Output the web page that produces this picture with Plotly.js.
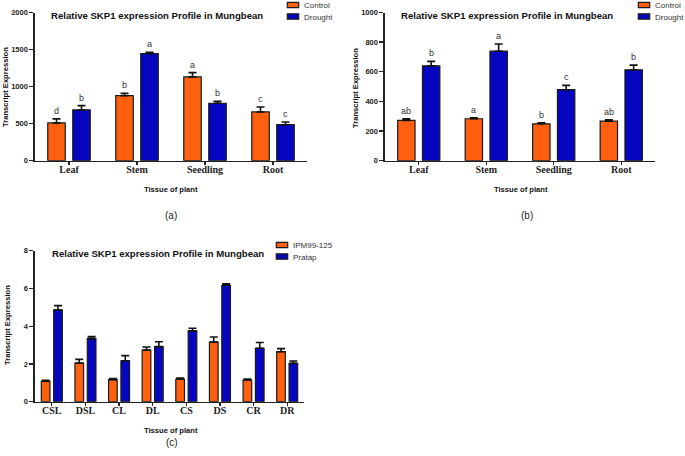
<!DOCTYPE html>
<html>
<head>
<meta charset="utf-8">
<script src="https://cdn.plot.ly/plotly-3.0.1.min.js"></script>
<style>
  body { margin: 0; background: #fff; }
  #chart { width: 685px; height: 456px; }
</style>
</head>
<body>
<div id="chart"></div>
<script>
// panel (a) and (b): tissues, Control vs Drought
const tissues = ['Leaf', 'Stem', 'Seedling', 'Root'];

const controlA = [510, 878, 1131, 658];
const controlErrA = [55, 32, 58, 67];
const droughtA = [685, 1446, 775, 486];
const droughtErrA = [58, 18, 28, 36];
const controlLettersA = ['d', 'b', 'a', 'c'];
const droughtLettersA = ['b', 'a', 'b', 'c'];

const controlB = [272, 283, 249, 267];
const controlErrB = [11, 7, 7, 9];
const droughtB = [640, 739, 479, 613];
const droughtErrB = [30, 48, 29, 32];
const controlLettersB = ['ab', 'a', 'b', 'ab'];
const droughtLettersB = ['b', 'a', 'c', 'b'];

// panel (c): genotypes per sample
const samples = ['CSL', 'DSL', 'CL', 'DL', 'CS', 'DS', 'CR', 'DR'];
const ipm = [1.08, 2.05, 1.17, 2.74, 1.20, 3.16, 1.15, 2.65];
const ipmErr = [0.05, 0.19, 0.05, 0.16, 0.05, 0.27, 0.05, 0.16];
const pratap = [4.86, 3.34, 2.17, 2.92, 3.75, 6.17, 2.83, 2.03];
const pratapErr = [0.23, 0.11, 0.27, 0.26, 0.14, 0.08, 0.31, 0.13];

const ORANGE = '#ff6010';
const BLUE = '#0606c0';
const W = 685, H = 456;
const sans = 'Liberation Sans, Arial, sans-serif';
const serif = 'Liberation Serif, Times New Roman, serif';

function barTrace(x, y, err, name, color, ax, legend) {
    return {
        type: 'bar',
        x: x,
        y: y,
        name: name,
        xaxis: 'x' + ax,
        yaxis: 'y' + ax,
        legend: legend,
        marker: { color: color, line: { color: '#1a1a1a', width: 1.2 } },
        error_y: {
            type: 'data',
            array: err,
            arrayminus: err.map(() => 0),
            symmetric: false,
            color: '#111',
            thickness: 1.6,
            width: 4
        },
        hoverinfo: 'none'
    };
}

// one legend per entry so the entries can sit as close as in the original
const data = [
    barTrace(tissues, controlA, controlErrA, 'Control', ORANGE, '', 'legend3'),
    barTrace(tissues, droughtA, droughtErrA, 'Drought', BLUE, '', 'legend4'),
    barTrace(tissues, controlB, controlErrB, 'Control', ORANGE, '2', 'legend5'),
    barTrace(tissues, droughtB, droughtErrB, 'Drought', BLUE, '2', 'legend6'),
    barTrace(samples, ipm, ipmErr, 'IPM99-125', ORANGE, '3', 'legend'),
    barTrace(samples, pratap, pratapErr, 'Pratap', BLUE, '3', 'legend2')
];

// significance letters sit just above each error bar
const annotations = [];
function letters(cats, vals, errs, labels, xref, yref, shift) {
    cats.forEach((c, i) => {
        annotations.push({
            x: c, y: vals[i] + errs[i], xref: xref, yref: yref,
            text: labels[i], showarrow: false,
            xshift: shift, yshift: 1, yanchor: 'bottom',
            font: { family: sans, size: 9, color: '#333' }
        });
    });
}
letters(tissues, controlA, controlErrA, controlLettersA, 'x', 'y', -12.5);
letters(tissues, droughtA, droughtErrA, droughtLettersA, 'x', 'y', 12.5);
letters(tissues, controlB, controlErrB, controlLettersB, 'x2', 'y2', -12.5);
letters(tissues, droughtB, droughtErrB, droughtLettersB, 'x2', 'y2', 12.5);

function label(text, px, py, opts) {
    annotations.push(Object.assign({
        x: px / W, y: 1 - py / H, xref: 'paper', yref: 'paper',
        text: text, showarrow: false, xanchor: 'center', yanchor: 'middle',
        font: { family: sans, size: 7.6, color: '#111', weight: 'bold' }
    }, opts || {}));
}
const titleFont = { family: sans, size: 9.6, color: '#111', weight: 'bold' };
const panelFont = { family: sans, size: 10, color: '#222' };
label('Relative SKP1 expression Profile in Mungbean', 157, 15, { font: titleFont });
label('Relative SKP1 expression Profile in Mungbean', 507, 15, { font: titleFont });
label('Relative SKP1 expression Profile in Mungbean', 158, 253, { font: titleFont });
label('Tissue of plant', 171, 189);
label('Tissue of plant', 521, 189);
label('Tissue of plant', 171, 430);
label('Transcript Expression', 6, 87, { textangle: -90 });
label('Transcript Expression', 356, 88, { textangle: -90 });
label('Transcript Expression', 7, 325, { textangle: -90 });
label('(a)', 171, 215, { font: panelFont });
label('(b)', 527, 215, { font: panelFont });
label('(c)', 172, 442, { font: panelFont });

function xAxis(domain, range, anchor) {
    return {
        domain: domain, range: range, anchor: anchor, type: 'category',
        showline: true, linecolor: '#222', linewidth: 1.6,
        ticks: 'outside', ticklen: 3, tickwidth: 1.2, tickcolor: '#222',
        ticklabelstandoff: -4,
        showgrid: false, zeroline: false, fixedrange: true,
        tickfont: { family: serif, size: 10, color: '#222', weight: 'bold' }
    };
}
function yAxis(domain, range, dtick, anchor) {
    return {
        domain: domain, range: range, dtick: dtick, anchor: anchor,
        showline: true, linecolor: '#222', linewidth: 1.6,
        ticks: 'outside', ticklen: 4, tickwidth: 1.4, tickcolor: '#222',
        showgrid: false, zeroline: false, fixedrange: true,
        tickfont: { family: sans, size: 7.5, color: '#222', weight: 'bold' }
    };
}
// px = left edge of the legend box, cy = centre of its single entry
function legendAt(px, cy) {
    return {
        x: px / W, y: 1 - (cy - 14) / H, xanchor: 'left', yanchor: 'top',
        bgcolor: 'rgba(0,0,0,0)', borderwidth: 0,
        font: { family: sans, size: 8, color: '#333' }
    };
}

const topDom = [1 - 160.7 / H, 1 - 12.5 / H];
const botDom = [1 - 401.7 / H, 1 - 250.7 / H];

const layout = {
    width: W,
    height: H,
    margin: { l: 0, r: 0, t: 0, b: 0, autoexpand: false },
    paper_bgcolor: '#fff',
    plot_bgcolor: '#fff',
    showlegend: true,
    barmode: 'group',
    bargap: 0.265,
    bargroupgap: 0.3,
    xaxis: xAxis([35 / W, 307 / W], [-0.5, 3.5], 'y'),
    yaxis: yAxis(topDom, [0, 2000], 500, 'x'),
    xaxis2: xAxis([385 / W, 655 / W], [-0.5, 3.5], 'y2'),
    yaxis2: yAxis(topDom, [0, 1000], 200, 'x2'),
    xaxis3: xAxis([35 / W, 304 / W], [-0.5, 7.5], 'y3'),
    yaxis3: yAxis(botDom, [0, 8], 2, 'x3'),
    legend: legendAt(253, 244.5),
    legend2: legendAt(253, 256),
    legend3: legendAt(264, 4.5),
    legend4: legendAt(264, 16),
    legend5: legendAt(615, 4.5),
    legend6: legendAt(615, 16),
    annotations: annotations
};

Plotly.newPlot('chart', data, layout, { displayModeBar: false, staticPlot: true }).then(gd => {
    // the original uses flat, wide swatches sitting close to their text
    gd.querySelectorAll('.legendpoints path').forEach(p => {
        const t = p.getAttribute('transform') || '';
        p.setAttribute('transform', t + ' translate(9,0) scale(0.95,0.45)');
        p.style.vectorEffect = 'non-scaling-stroke';
    });
});
</script>
</body>
</html>
